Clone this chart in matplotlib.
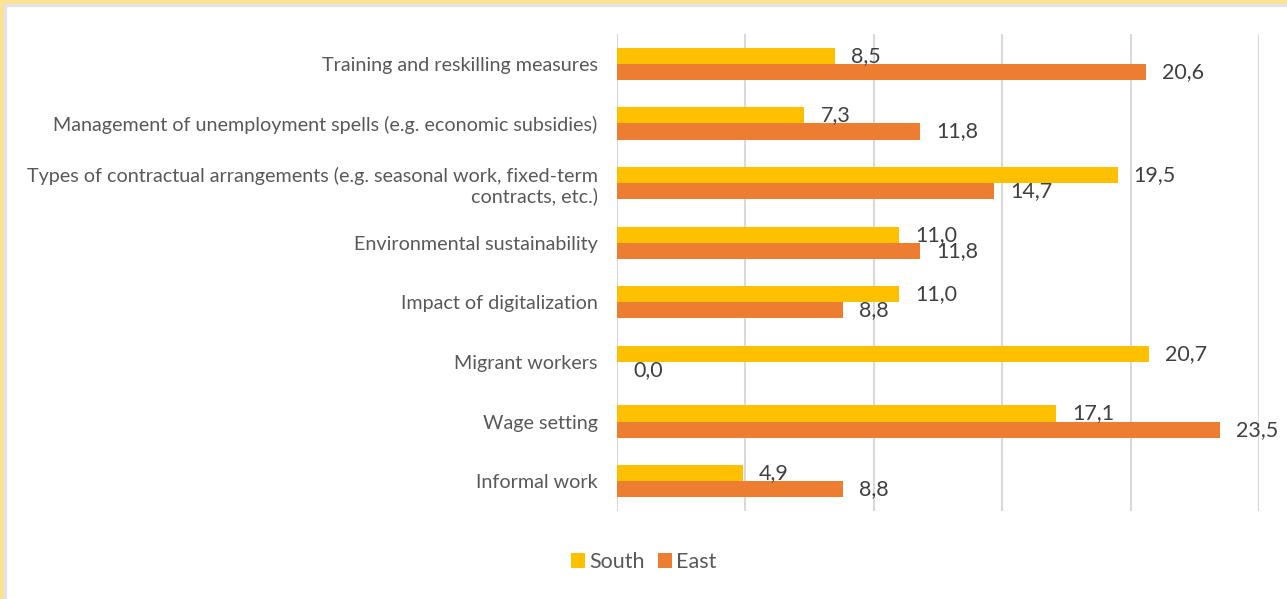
import matplotlib.pyplot as plt
from matplotlib.patches import Rectangle
import numpy as np

plt.rcParams["font.family"] = ["Lato", "DejaVu Sans"]

categories = [
    "Informal work",
    "Wage setting",
    "Migrant workers",
    "Impact of digitalization",
    "Environmental sustainability",
    "Types of contractual arrangements (e.g. seasonal work, fixed-term\ncontracts, etc.)",
    "Management of unemployment spells (e.g. economic subsidies)",
    "Training and reskilling measures",
]
south = [4.9, 17.1, 20.7, 11.0, 11.0, 19.5, 7.3, 8.5]
east = [8.8, 23.5, 0.0, 8.8, 11.8, 14.7, 11.8, 20.6]

SOUTH_COLOR = "#FFC000"
EAST_COLOR = "#ED7D31"

fig = plt.figure(figsize=(12.87, 5.99), dpi=100)
ax = fig.add_axes([0.4794, 0.1469, 0.4988, 0.7963])

y = np.arange(len(categories))
h = 0.27
ax.barh(y + h / 2, south, height=h, color=SOUTH_COLOR, label="South", zorder=3)
ax.barh(y - h / 2, east, height=h, color=EAST_COLOR, label="East", zorder=3)

def fmt(v):
    return f"{v:.1f}".replace(".", ",")

for yy, v in zip(y + h / 2, south):
    ax.annotate(fmt(v), (v, yy), xytext=(16, 0), textcoords="offset pixels",
                va="center", ha="left", fontsize=15.5, color="#404040", zorder=4)
for yy, v in zip(y - h / 2, east):
    ax.annotate(fmt(v), (v, yy), xytext=(16, 0), textcoords="offset pixels",
                va="center", ha="left", fontsize=15.5, color="#404040", zorder=4)

ax.set_xlim(0, 25)
ax.set_ylim(-0.5, len(categories) - 0.5)
ax.set_xticks(np.arange(0, 26, 5))
ax.xaxis.grid(True, color="#D9D9D9", linewidth=1.5, zorder=0)
ax.tick_params(axis="x", length=0, labelbottom=False)
ax.tick_params(axis="y", length=0, pad=14)
ax.set_yticks(y)
ax.set_yticklabels(categories, fontsize=14.2, color="#595959", ha="right",
                   multialignment="right")
for s in ax.spines.values():
    s.set_visible(False)

leg = fig.legend(loc="center", bbox_to_anchor=(0.5, 1 - 562 / 599), ncol=2,
                 frameon=False, fontsize=15.5, handlelength=0.65, handleheight=0.65,
                 handletextpad=0.2, columnspacing=0.6)
for t in leg.get_texts():
    t.set_color("#595959")

# frame edges along the top and left
fig.patches.append(Rectangle((0, 1 - 4 / 599), 1, 4 / 599, transform=fig.transFigure,
                             color="#FAE391", zorder=0))
fig.patches.append(Rectangle((0, 0), 4 / 1287, 1, transform=fig.transFigure,
                             color="#FAE391", zorder=0))
fig.patches.append(Rectangle((4 / 1287, 1 - 6 / 599), 1, 2 / 599, transform=fig.transFigure,
                             color="#E4E4E4", zorder=0))
fig.patches.append(Rectangle((4 / 1287, 0), 2 / 1287, 1 - 4 / 599, transform=fig.transFigure,
                             color="#E4E4E4", zorder=0))

fig.savefig("out.png", dpi=100)
